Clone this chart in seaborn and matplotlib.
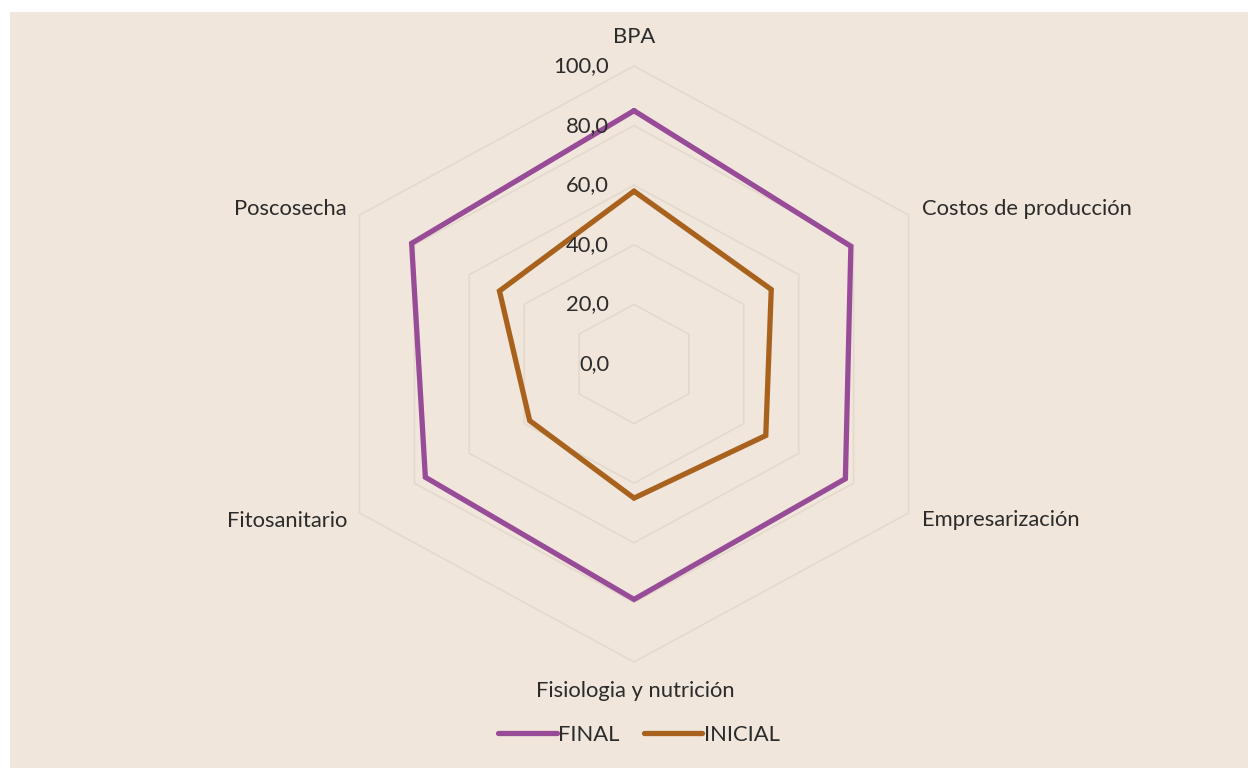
import numpy as np
import pandas as pd
import matplotlib
matplotlib.use("Agg")
import matplotlib.pyplot as plt
from matplotlib.patches import Rectangle
from matplotlib.lines import Line2D
import seaborn as sns

# Radar data: six evaluation areas, initial vs final scores
categories = ["BPA", "Costos de producción", "Empresarización",
              "Fisiologia y nutrición", "Fitosanitario", "Poscosecha"]
final_vals = [85, 79, 77, 79, 76, 81]
inicial_vals = [58, 50, 48, 45, 38, 49]
series_names = ["FINAL", "INICIAL"]
ring_values = [0, 20, 40, 60, 80, 100]
ring_labels = ["0,0", "20,0", "40,0", "60,0", "80,0", "100,0"]

BG = "#F0E6DB"
GRID = "#E4D9CD"
TEXT = "#2B2B2B"
COLORS = {"FINAL": "#984C98", "INICIAL": "#A8621E"}
FS = 15.8

sns.set_theme(style="white")
plt.rcParams["font.family"] = ["Lato", "DejaVu Sans"]

W_PX, H_PX = 1248, 768
fig = plt.figure(figsize=(W_PX / 100, H_PX / 100), dpi=100)
fig.patch.set_facecolor("white")
fig.patches.append(Rectangle((10 / W_PX, 0), 1 - 10 / W_PX, (H_PX - 12) / H_PX,
                             transform=fig.transFigure, facecolor=BG,
                             edgecolor="none", zorder=-10))

ax = fig.add_axes([0, 0, 1, 1])
ax.set_facecolor("none")

# chart centre and scale (pixels per unit) of the radar area
cx, cy = 634, 364
sx, sy = 3.17, 2.98
ax.set_xlim(-cx / sx, (W_PX - cx) / sx)
ax.set_ylim(-(H_PX - cy) / sy, cy / sy)


def px(x, y):
    """pixel position -> data coordinates"""
    return (x - cx) / sx, (cy - y) / sy


n = len(categories)
theta = np.arange(n) * 2 * np.pi / n


def polar_xy(r):
    r = np.asarray(r, dtype=float)
    return r * np.sin(theta), r * np.cos(theta)


# hexagonal grid rings
for rv in ring_values[1:]:
    gx, gy = polar_xy([rv] * n)
    ax.plot(np.append(gx, gx[0]), np.append(gy, gy[0]), color=GRID,
            lw=1.2, zorder=1)

# data series
rows = []
for name, vals in zip(series_names, [final_vals, inicial_vals]):
    xs, ys = polar_xy(vals)
    for i in list(range(n)) + [0]:
        rows.append({"serie": name, "x": xs[i], "y": ys[i]})
df = pd.DataFrame(rows)
sns.lineplot(data=df, x="x", y="y", hue="serie", palette=COLORS, sort=False,
             estimator=None, linewidth=3.8, legend=False, ax=ax, zorder=3)
for line in ax.lines[-2:]:
    line.set_solid_joinstyle("miter")
ax.axis("off")

# value axis labels
for rv, lab in zip(ring_values, ring_labels):
    tx, _ = px(609, 0)
    ax.text(tx, rv, lab, ha="right", va="center", fontsize=FS, color=TEXT, zorder=4)

# category labels
label_pos = [
    (634, 37, "center"),
    (922, 209, "left"),
    (922, 520, "left"),
    (635, 691, "center"),
    (347, 521, "right"),
    (347, 209, "right"),
]
for cat, (lx, ly, ha) in zip(categories, label_pos):
    dx, dy = px(lx, ly)
    ax.text(dx, dy, cat, ha=ha, va="center", fontsize=FS, color=TEXT)

handles = [Line2D([0], [0], color=COLORS[s], lw=3.8, solid_capstyle="round")
           for s in series_names]
fig.legend(handles, series_names, loc="center", ncol=2, frameon=False,
           bbox_to_anchor=(639 / W_PX, 1 - 735 / H_PX), fontsize=FS,
           handlelength=2.65, handletextpad=0.08, columnspacing=1.1,
           labelcolor=TEXT)

fig.savefig("out.png", dpi=100, facecolor="white")
